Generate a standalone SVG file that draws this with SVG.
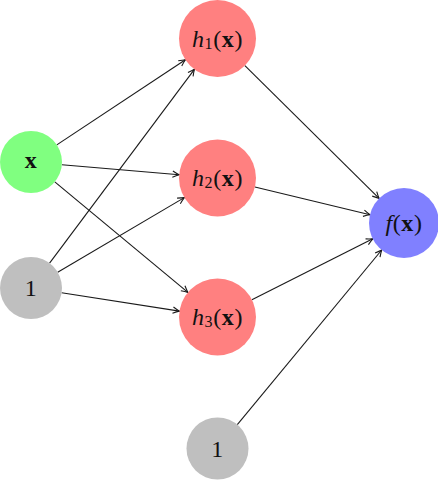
<svg xmlns="http://www.w3.org/2000/svg" width="438" height="480" viewBox="0 0 438 480">
  <style>
    .edge { stroke: #1a1a1a; stroke-width: 1.1; fill: none; marker-end: url(#arrow); }
    .lbl { font-family: "Liberation Serif", "DejaVu Serif", serif; font-size: 24px; fill: #111; text-anchor: middle; dominant-baseline: central; letter-spacing: 0.6px; }
    .it { font-style: italic; }
    .bf { font-weight: bold; }
    .sub { font-size: 16px; }
  </style>
  <defs>
    <marker id="arrow" viewBox="-8 -5 10 10" refX="0" refY="0" markerWidth="10" markerHeight="10" markerUnits="userSpaceOnUse" orient="auto">
      <path d="M-6.5,-3.2 Q-2.5,-1 0,0 Q-2.5,1 -6.5,3.2" stroke="#1a1a1a" stroke-width="1.1" fill="none"/>
    </marker>
  </defs>

  <g id="connectors">
    <line class="edge" x1="56.8" y1="144.9" x2="185.4" y2="59.8"/>
    <line class="edge" x1="61.9" y1="164.7" x2="179.1" y2="174.7"/>
    <line class="edge" x1="54.8" y1="181.8" x2="187.9" y2="292.4"/>
    <line class="edge" x1="49.6" y1="263.2" x2="194.4" y2="69.3"/>
    <line class="edge" x1="57.7" y1="272.2" x2="184.3" y2="197.6"/>
    <line class="edge" x1="61.6" y1="292.8" x2="179.4" y2="311.1"/>
    <line class="edge" x1="244.9" y1="65.6" x2="379.1" y2="198.4"/>
    <line class="edge" x1="254.9" y1="187.0" x2="370.0" y2="214.8"/>
    <line class="edge" x1="251.9" y1="299.7" x2="372.8" y2="238.8"/>
    <line class="edge" x1="237.3" y1="424.6" x2="381.7" y2="250.0"/>
  </g>

  <g id="node-x">
    <circle cx="31" cy="162" r="31" fill="#80FF80"/>
    <text class="lbl bf" x="31" y="160">x</text>
  </g>
  <g id="node-one-left">
    <circle cx="31" cy="288" r="31" fill="#BFBFBF"/>
    <text class="lbl" x="31" y="288">1</text>
  </g>
  <g id="node-h1">
    <circle cx="217.5" cy="38.5" r="38.5" fill="#FF8080"/>
    <text class="lbl" x="217.5" y="38.5"><tspan class="it">h</tspan><tspan class="sub" dy="4">1</tspan><tspan dy="-4">(</tspan><tspan class="bf">x</tspan>)</text>
  </g>
  <g id="node-h2">
    <circle cx="217.5" cy="178" r="38.5" fill="#FF8080"/>
    <text class="lbl" x="217.5" y="178"><tspan class="it">h</tspan><tspan class="sub" dy="4">2</tspan><tspan dy="-4">(</tspan><tspan class="bf">x</tspan>)</text>
  </g>
  <g id="node-h3">
    <circle cx="217.5" cy="317" r="38.5" fill="#FF8080"/>
    <text class="lbl" x="217.5" y="317"><tspan class="it">h</tspan><tspan class="sub" dy="4">3</tspan><tspan dy="-4">(</tspan><tspan class="bf">x</tspan>)</text>
  </g>
  <g id="node-one-bottom">
    <circle cx="217.5" cy="448.5" r="31" fill="#BFBFBF"/>
    <text class="lbl" x="217.5" y="448.5">1</text>
  </g>
  <g id="node-f">
    <circle cx="404" cy="223" r="35" fill="#8080FF"/>
    <text class="lbl" x="404" y="223"><tspan class="it">f</tspan>(<tspan class="bf">x</tspan>)</text>
  </g>
</svg>
